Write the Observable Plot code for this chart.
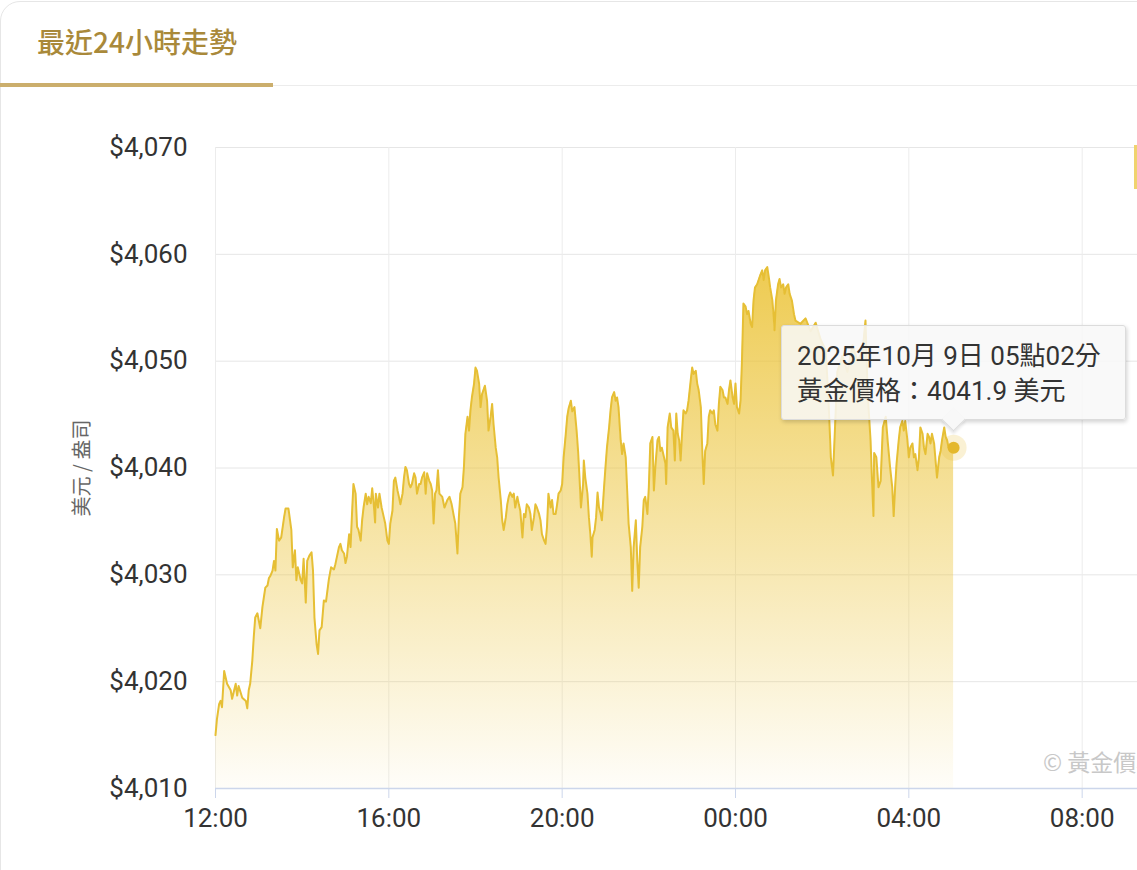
<!DOCTYPE html>
<html>
<head>
<meta charset="utf-8">
<script src="https://cdn.jsdelivr.net/npm/d3@7"></script>
<script src="https://cdn.jsdelivr.net/npm/@observablehq/plot@0.6"></script>
<style>
html,body{margin:0;padding:0;background:#fff;overflow:hidden;width:1137px;height:870px;}
body{position:relative;font-family:Roboto,"Noto Sans CJK TC",sans-serif;}
#card{position:absolute;left:0;top:1px;width:1170px;height:940px;border:1.5px solid #e6e6e6;border-radius:20px;box-sizing:border-box;z-index:2;pointer-events:none;}
#title{position:absolute;left:37px;top:27px;font-size:28px;line-height:29px;font-weight:500;color:#a9893a;font-family:"Noto Sans CJK TC",sans-serif;z-index:3;}
#divider{position:absolute;left:0;top:85px;width:1137px;height:1px;background:#ececec;z-index:3;}
#tabline{position:absolute;left:0;top:83px;width:273px;height:4px;background:#cbae6c;z-index:4;}
#chart{position:absolute;left:0;top:0;width:1275px;height:870px;z-index:1;}
#chart svg{max-width:none !important;width:1275px;height:870px;}
#tip{position:absolute;width:345px;height:95px;box-sizing:border-box;background:rgba(248,248,248,0.86);border:1px solid #dcdcdc;border-radius:3px;box-shadow:1px 2px 4px rgba(0,0,0,0.18);z-index:5;padding:13px 0 0 15px;color:#333;font-size:26px;line-height:35px;font-family:Roboto,"Noto Sans CJK TC",sans-serif;white-space:nowrap;}
#tipArrow{position:absolute;width:16px;height:16px;background:rgba(248,248,248,1);border-right:1px solid #dcdcdc;border-bottom:1px solid #dcdcdc;transform:rotate(45deg);z-index:6;box-shadow:2px 2px 3px rgba(0,0,0,0.10);}
#mark{position:absolute;left:1043px;top:744px;font-size:23px;color:#c8c8c8;font-family:"Noto Sans CJK TC",sans-serif;white-space:nowrap;z-index:3;}
#edge{position:absolute;left:1134px;top:145px;width:3px;height:44px;background:#f0d36e;z-index:3;}
</style>
</head>
<body>
<div id="card"></div>
<div id="title">最近24小時走勢</div>
<div id="divider"></div>
<div id="tabline"></div>
<div id="chart"></div>
<div id="mark">© 黃金價格</div>
<div id="edge"></div>
<script>
// ---- data (gold price, USD/oz, 2025-10-08 12:00 to 2025-10-09 05:02) ----
const times = [
"12:00","12:02","12:05","12:07","12:09","12:12","12:16","12:21","12:23","12:28","12:30","12:32","12:37","12:42","12:44","12:46","12:48","12:51","12:53","12:55","12:58",
"13:00","13:02","13:05","13:07","13:09","13:12","13:14","13:16","13:19","13:21","13:23","13:25","13:28","13:31","13:35","13:37","13:41","13:42","13:45","13:47","13:50","13:52","13:54","13:58",
"14:00","14:02","14:05","14:07","14:10","14:13","14:15","14:17","14:20","14:22","14:24","14:27","14:30","14:33","14:37","14:40","14:44","14:46","14:51","14:53","14:55","14:58",
"15:00","15:02","15:05","15:07","15:09","15:11","15:14","15:16","15:18","15:21","15:23","15:25","15:28","15:30","15:32","15:35","15:37","15:39","15:41","15:42","15:45","15:47","15:50","15:53","15:55","15:58",
"16:00","16:02","16:05","16:07","16:09","16:12","16:14","16:16","16:19","16:21","16:23","16:25","16:28","16:30","16:32","16:35","16:37","16:39","16:42","16:44","16:46","16:49","16:51","16:53","16:56","16:58",
"17:00","17:02","17:04","17:06","17:08","17:10","17:14","17:17","17:21","17:24","17:27","17:30","17:32","17:35","17:37","17:39","17:42","17:44","17:46","17:49","17:51","17:53","17:55","17:58",
"18:00","18:02","18:05","18:07","18:09","18:13","18:16","18:18","18:21","18:23","18:25","18:28","18:30","18:32","18:35","18:37","18:39","18:42","18:44","18:46","18:48","18:51","18:53","18:55","18:58",
"19:00","19:02","19:05","19:07","19:09","19:11","19:14","19:16","19:18","19:21","19:23","19:25","19:28","19:30","19:32","19:35","19:37","19:39","19:41","19:44","19:46","19:48","19:51","19:53","19:55","19:58",
"20:00","20:02","20:05","20:07","20:09","20:12","20:14","20:17","20:20","20:22","20:24","20:26","20:29","20:30","20:32","20:35","20:37","20:39","20:41","20:42","20:45","20:47","20:49","20:51","20:53","20:55","20:58",
"21:00","21:02","21:05","21:07","21:09","21:12","21:14","21:16","21:18","21:21","21:23","21:25","21:28","21:30","21:32","21:35","21:37","21:39","21:42","21:44","21:46","21:48","21:51","21:53","21:55","21:58",
"22:00","22:02","22:05","22:07","22:09","22:12","22:14","22:16","22:18","22:21","22:23","22:24","22:26","22:29","22:31","22:34","22:36","22:38","22:40","22:42","22:44","22:46","22:48","22:51","22:53","22:55","22:58",
"23:00","23:02","23:05","23:07","23:09","23:12","23:14","23:16","23:18","23:21","23:23","23:25","23:28","23:30","23:32","23:35","23:37","23:39","23:42","23:44","23:46","23:49","23:51","23:53","23:56","23:58",
"00:00","00:02","00:05","00:07","00:09","00:11","00:14","00:16","00:18","00:21","00:23","00:25","00:27","00:30","00:32","00:34","00:37","00:39","00:41","00:44","00:46","00:48","00:51","00:53","00:54","00:56","00:59",
"01:01","01:03","01:06","01:08","01:10","01:13","01:15","01:18","01:21","01:23","01:30","01:37","01:44","01:51","01:58",
"02:05","02:09","02:12","02:15","02:17","02:21","02:28","02:35","02:42","02:49","02:56",
"03:00","03:03","03:07","03:09","03:11","03:12","03:15","03:18","03:21","03:24","03:28","03:31","03:34","03:37","03:39","03:41","03:43","03:46","03:48","03:51","03:53","03:55","03:58",
"04:00","04:02","04:05","04:07","04:09","04:12","04:14","04:16","04:19","04:21","04:23","04:26","04:28","04:30","04:32","04:35","04:37","04:39","04:42","04:44","04:46","04:49","04:51","04:53","04:55",
"05:02"
];
const prices = [
4015.0,4016.5,4017.9,4018.2,4017.6,4021.0,4019.8,4019.2,4018.4,4019.8,4018.7,4019.6,4018.5,4018.2,4017.5,4019.2,4019.8,4022.0,4024.2,4026.0,4026.4,
4025.7,4025.0,4027.0,4027.9,4028.8,4029.0,4029.7,4029.9,4030.4,4031.3,4030.4,4034.3,4033.2,4033.5,4035.4,4036.2,4036.2,4035.7,4034.2,4030.7,4032.3,4029.5,4030.7,4029.5,
4029.2,4031.5,4027.4,4031.3,4031.8,4032.1,4030.4,4026.0,4023.5,4022.6,4024.8,4025.1,4027.6,4027.5,4029.6,4030.7,4030.5,4031.0,4032.6,4032.9,4032.3,4032.0,
4031.1,4031.7,4033.8,4032.6,4035.7,4038.5,4037.6,4034.5,4034.2,4033.2,4035.1,4036.3,4037.6,4036.6,4037.3,4036.7,4038.1,4036.7,4034.9,4037.6,4036.3,4037.6,4036.3,4035.4,4034.8,4033.2,
4032.9,4034.8,4036.0,4038.8,4039.1,4037.9,4037.3,4036.6,4037.6,4039.1,4040.1,4039.8,4038.5,4038.2,4038.5,4039.5,4039.1,4037.6,4038.5,4038.5,4039.1,4039.6,4037.6,4039.5,4038.8,4038.5,
4037.9,4034.8,4037.6,4037.9,4039.8,4037.6,4037.3,4036.3,4037.0,4037.3,4036.6,4035.5,4034.8,4032.0,4035.4,4037.6,4038.2,4040.1,4043.2,4044.8,4043.5,4045.4,4046.6,4047.9,
4049.4,4049.1,4047.9,4045.7,4046.9,4047.7,4046.3,4043.5,4044.8,4046.0,4044.1,4041.9,4041.0,4039.1,4037.0,4035.1,4034.2,4035.4,4036.6,4037.3,4037.7,4037.3,4037.6,4036.3,4037.3,
4036.6,4036.0,4033.5,4035.7,4035.4,4036.6,4036.3,4035.7,4034.2,4035.4,4036.6,4036.3,4035.7,4035.1,4033.8,4033.2,4032.9,4034.5,4037.6,4036.3,4037.0,4035.7,4035.7,4036.6,4037.6,4037.9,
4038.5,4041.0,4043.2,4044.8,4045.6,4046.3,4045.3,4045.7,4043.5,4041.6,4039.1,4036.3,4038.5,4040.7,4039.1,4037.6,4035.4,4033.8,4031.7,4033.5,4034.2,4035.4,4037.7,4036.3,4035.8,4035.1,4038.2,
4040.1,4041.9,4043.8,4045.4,4046.6,4047.1,4046.3,4046.6,4045.7,4042.6,4041.3,4042.3,4041.0,4037.9,4034.8,4032.6,4028.5,4032.6,4035.1,4031.3,4028.8,4032.6,4034.5,4037.0,4037.3,4035.7,
4038.2,4042.3,4042.9,4037.9,4040.1,4042.6,4042.9,4041.6,4041.9,4041.0,4040.4,4038.5,4043.8,4045.1,4043.8,4043.5,4040.7,4045.1,4043.2,4042.6,4040.7,4043.2,4045.4,4045.1,4045.4,4046.3,4048.2,
4049.4,4048.8,4049.1,4047.9,4047.3,4045.7,4041.6,4038.5,4041.6,4042.3,4044.8,4045.4,4045.1,4045.4,4044.1,4043.5,4046.0,4047.6,4047.3,4046.6,4046.6,4046.0,4047.3,4048.2,4046.6,4046.0,
4047.9,4045.7,4045.1,4046.3,4050.1,4055.4,4055.1,4054.4,4054.7,4053.5,4053.2,4055.7,4056.9,4057.2,4057.6,4058.0,4058.5,4057.6,4058.5,4058.8,4057.9,4056.9,4055.7,4054.1,4052.9,4055.7,4057.2,
4057.7,4056.9,4057.2,4056.3,4056.9,4057.2,4056.3,4055.7,4054.4,4053.8,4053.5,4054.0,4052.8,4053.6,4052.0,
4051.0,4046.0,4041.0,4039.3,4042.5,4049.0,4050.5,4049.0,4051.5,4050.0,4051.0,
4053.8,4047.0,4042.6,4038.8,4035.5,4041.4,4041.0,4038.2,4038.8,4043.8,4044.8,4042.3,4040.1,4038.2,4035.5,4038.2,4040.4,4042.6,4043.8,4044.4,4043.5,4044.4,4042.6,
4041.0,4041.9,4042.3,4041.0,4041.3,4039.8,4041.0,4043.8,4043.2,4041.9,4041.3,4043.2,4042.9,4042.3,4043.2,4042.3,4040.7,4039.1,4041.0,4041.6,4042.6,4043.8,4042.9,4042.6,4041.9,
4041.9
];
const yTicks = [4010, 4020, 4030, 4040, 4050, 4060, 4070];
const xTickLabels = ["12:00", "16:00", "20:00", "00:00", "04:00", "08:00"];
const xDomainLabels = ["12:00", "12:00"];     // 24-hour window, start and end
const yLabel = "美元 / 盎司";
const seriesName = "黃金價格";
const unit = "美元";

// ---- helpers ----
const FONT = "Roboto, 'Noto Sans CJK TC', sans-serif";
function toDate(t, forceNext) {
  const [h, m] = t.split(":").map(Number);
  const day = (forceNext || h < 12) ? 9 : 8;
  return new Date(Date.UTC(2025, 9, day, h, m));
}
const data = times.map((t, i) => ({date: toDate(t), price: prices[i]}));
const last = data[data.length - 1];
const xTickDates = xTickLabels.map(t => toDate(t));
const labelByTime = new Map(xTickDates.map((d, i) => [+d, xTickLabels[i]]));
const xDomain = [toDate(xDomainLabels[0]), toDate(xDomainLabels[1], true)];

const chart = Plot.plot({
  width: 1275,
  height: 870,
  marginTop: 147,
  marginRight: 20,
  marginBottom: 82,
  marginLeft: 215,
  style: {background: "transparent", fontFamily: FONT, color: "#333", overflow: "visible", maxWidth: "none"},
  x: {type: "utc", domain: xDomain},
  y: {domain: [yTicks[0], yTicks[yTicks.length - 1]]},
  marks: [
    Plot.gridY(yTicks, {stroke: "#e6e6e6", strokeOpacity: 1}),
    Plot.gridX(xTickDates, {stroke: "#ececec", strokeOpacity: 1}),
    Plot.areaY(data, {x: "date", y1: yTicks[0], y2: "price", fill: "url(#goldFill)"}),
    Plot.lineY(data, {x: "date", y: "price", stroke: "#e6bf35", strokeWidth: 2}),
    Plot.ruleY([yTicks[0]], {stroke: "#ccd6eb", strokeWidth: 1.5}),
    Plot.axisX(xTickDates, {tickSize: 10, tickPadding: 10, tickFormat: d => labelByTime.get(+d), fontSize: 26, stroke: "#ccd6eb", fill: "#333", label: null}),
    Plot.axisY(yTicks, {tickSize: 0, tickPadding: 28, tickFormat: d3.format("$,"), fontSize: 26, fill: "#333", label: null}),
    Plot.text([yLabel], {frameAnchor: "left", textAnchor: "middle", rotate: -90, dx: -133, fontSize: 20, fill: "#666", fontFamily: "'Noto Sans CJK TC', sans-serif"}),
    Plot.dot([last], {x: "date", y: "price", r: 13, fill: "#e8c13a", fillOpacity: 0.22}),
    Plot.dot([last], {x: "date", y: "price", r: 6, fill: "#e4b82c"})
  ]
});

const ns = "http://www.w3.org/2000/svg";
const defs = document.createElementNS(ns, "defs");
defs.innerHTML = '<linearGradient id="goldFill" x1="0" y1="0" x2="0" y2="1">' +
  '<stop offset="0" stop-color="#ebc233" stop-opacity="0.85"/>' +
  '<stop offset="1" stop-color="#ebc233" stop-opacity="0.03"/></linearGradient>';
chart.insertBefore(defs, chart.firstChild);
document.getElementById("chart").appendChild(chart);

// ---- tooltip for the latest point ----
const px = chart.scale("x").apply(last.date);
const py = chart.scale("y").apply(last.price);
const fmt = d3.utcFormat("%Y年%-m月%e日 %H點%M分");
const tip = document.createElement("div");
tip.id = "tip";
tip.innerHTML = `<div>${fmt(last.date)}</div><div>${seriesName}：${last.price.toFixed(1)} ${unit}</div>`;
tip.style.left = (px - 172) + "px";
tip.style.top = (py - 122) + "px";
document.body.appendChild(tip);
const arrow = document.createElement("div");
arrow.id = "tipArrow";
arrow.style.left = (px - 8) + "px";
arrow.style.top = (py - 36) + "px";
document.body.appendChild(arrow);
</script>
</body>
</html>
